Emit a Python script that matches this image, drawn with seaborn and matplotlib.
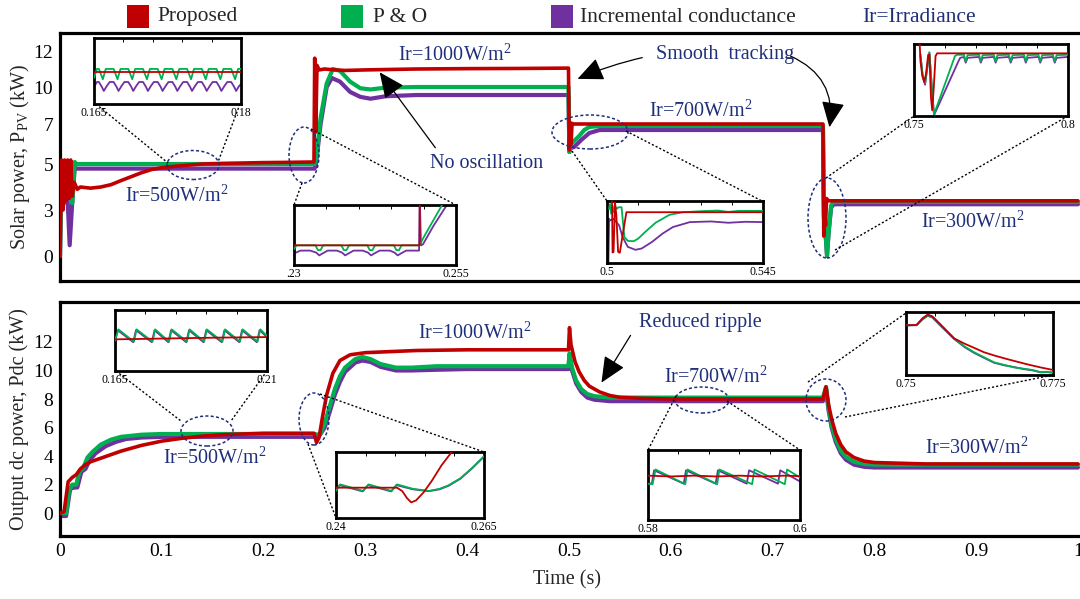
import numpy as np
import matplotlib
matplotlib.use("Agg")
import matplotlib.pyplot as plt
import seaborn as sns
from matplotlib.patches import Ellipse, Rectangle, FancyArrowPatch
from matplotlib.lines import Line2D

# ---------------------------------------------------------------- data
SERIES = ["Proposed", "P & O", "Incremental conductance"]
TIME_TICKS = [0, 0.1, 0.2, 0.3, 0.4, 0.5, 0.6, 0.7, 0.8, 0.9, 1.0]
TIME_LABELS = ["0", "0.1", "0.2", "0.3", "0.4", "0.5", "0.6", "0.7", "0.8", "0.9", "1"]
PV_TICKS = [0, 3, 5, 7, 10, 12]
PDC_TICKS = [0, 2, 4, 6, 8, 10, 12]

# Solar power Ppv (kW): (time s, value)
PV_RED = [(0.000, 0.0), (0.0015, 5.2), (0.003, 3.0), (0.0045, 5.2), (0.006, 3.4), (0.0075, 5.2),
          (0.009, 3.5), (0.0105, 5.2), (0.012, 3.6), (0.014, 4.2), (0.017, 3.9), (0.02, 4.0),
          (0.03, 3.95), (0.04, 4.0), (0.05, 4.1), (0.06, 4.28), (0.07, 4.45), (0.08, 4.62),
          (0.09, 4.76), (0.10, 4.84), (0.11, 4.89), (0.12, 4.93), (0.14, 5.0), (0.16, 5.03),
          (0.18, 5.05), (0.20, 5.07), (0.22, 5.08), (0.2495, 5.1), (0.2502, 11.6), (0.2512, 6.6),
          (0.2525, 11.2), (0.2545, 10.95), (0.26, 11.0), (0.27, 10.95), (0.28, 10.92), (0.30, 10.95),
          (0.35, 11.0), (0.40, 11.02), (0.45, 11.03), (0.4995, 11.05), (0.5003, 5.7), (0.5012, 7.1),
          (0.502, 6.0), (0.503, 7.05), (0.5045, 7.0), (0.60, 7.0), (0.70, 7.0), (0.7495, 7.0),
          (0.7503, 1.3), (0.7512, 3.4), (0.752, 2.0), (0.753, 3.5), (0.7545, 3.4), (0.80, 3.4),
          (1.0, 3.4)]
PV_GREEN = [(0.000, 0.0), (0.0015, 5.1), (0.004, 3.5), (0.006, 5.1), (0.008, 3.6), (0.0105, 4.0),
            (0.012, 3.3), (0.0145, 5.1), (0.016, 5.0), (0.25, 5.0), (0.2515, 5.2), (0.256, 7.5),
            (0.262, 10.2), (0.268, 11.0), (0.275, 10.9), (0.285, 10.3), (0.295, 9.9), (0.305, 9.8),
            (0.32, 9.95), (0.35, 10.0), (0.4995, 10.0), (0.5004, 5.6), (0.501, 6.8), (0.502, 6.0),
            (0.504, 6.1), (0.51, 6.4), (0.515, 6.7), (0.52, 6.85), (0.53, 6.9), (0.7495, 6.9),
            (0.7505, 2.5), (0.752, 1.5), (0.7535, 0.05), (0.755, 1.5), (0.7575, 3.2), (0.76, 3.35),
            (1.0, 3.35)]
PV_PURPLE = [(0.000, 0.0), (0.0015, 5.0), (0.004, 3.3), (0.006, 4.9), (0.0095, 0.7), (0.012, 3.3),
             (0.0145, 4.85), (0.016, 4.8), (0.25, 4.8), (0.2515, 5.0), (0.256, 7.0), (0.262, 10.0),
             (0.267, 10.5), (0.275, 10.3), (0.285, 9.6), (0.295, 9.2), (0.305, 9.05), (0.32, 9.25),
             (0.35, 9.35), (0.4995, 9.35), (0.5004, 5.6), (0.5008, 6.6), (0.502, 5.8), (0.505, 5.85),
             (0.512, 6.2), (0.52, 6.55), (0.53, 6.7), (0.7495, 6.7), (0.7505, 2.5), (0.752, 1.5),
             (0.7535, 0.0), (0.755, 1.5), (0.7575, 3.1), (0.76, 3.25), (1.0, 3.25)]

# Output dc power Pdc (kW)
PDC_RED = [(0.0, 0.0), (0.004, 0.1), (0.008, 2.2), (0.012, 2.5), (0.016, 2.7), (0.02, 3.1),
           (0.025, 3.4), (0.03, 3.6), (0.04, 3.85), (0.05, 4.1), (0.06, 4.35), (0.07, 4.55),
           (0.08, 4.75), (0.09, 4.9), (0.10, 5.05), (0.12, 5.25), (0.14, 5.4), (0.16, 5.5),
           (0.18, 5.55), (0.20, 5.6), (0.2495, 5.6), (0.252, 4.95), (0.2545, 5.3), (0.258, 6.8),
           (0.262, 8.3), (0.268, 9.8), (0.275, 10.7), (0.285, 11.1), (0.30, 11.25), (0.35, 11.4),
           (0.40, 11.45), (0.4995, 11.45), (0.5005, 13.0), (0.502, 11.8), (0.506, 10.6),
           (0.51, 9.9), (0.515, 9.3), (0.52, 8.9), (0.53, 8.5), (0.54, 8.25), (0.55, 8.12),
           (0.57, 8.05), (0.60, 8.0), (0.7495, 8.0), (0.7525, 8.85), (0.755, 7.6), (0.758, 6.6),
           (0.762, 5.6), (0.767, 4.8), (0.772, 4.3), (0.78, 3.9), (0.79, 3.65), (0.80, 3.55),
           (0.85, 3.45), (1.0, 3.45)]
PDC_GREEN = [(0.0, 0.0), (0.006, 0.0), (0.009, 1.6), (0.012, 2.0), (0.016, 2.0), (0.019, 2.9),
             (0.023, 3.2), (0.027, 3.9), (0.032, 4.3), (0.04, 4.8), (0.05, 5.15), (0.06, 5.35),
             (0.08, 5.5), (0.10, 5.55), (0.25, 5.55), (0.253, 5.5), (0.256, 5.6), (0.26, 6.3),
             (0.265, 7.5), (0.27, 8.7), (0.275, 9.6), (0.28, 10.2), (0.29, 10.8), (0.297, 10.95),
             (0.305, 10.8), (0.315, 10.45), (0.33, 10.2), (0.345, 10.2), (0.37, 10.3), (0.40, 10.3),
             (0.4995, 10.3), (0.5005, 11.2), (0.503, 10.2), (0.507, 9.3), (0.512, 8.7),
             (0.518, 8.35), (0.525, 8.2), (0.54, 8.1), (0.7495, 8.1), (0.7525, 8.85), (0.755, 7.4),
             (0.758, 6.2), (0.762, 5.2), (0.767, 4.4), (0.772, 3.95), (0.78, 3.6), (0.79, 3.45),
             (0.80, 3.4), (1.0, 3.4)]
PDC_PURPLE = [(0.0, -0.2), (0.006, -0.2), (0.01, 1.7), (0.014, 1.8), (0.017, 1.8), (0.021, 2.9),
              (0.025, 3.1), (0.029, 3.7), (0.035, 4.2), (0.045, 4.7), (0.055, 5.0), (0.065, 5.2),
              (0.08, 5.3), (0.10, 5.35), (0.25, 5.35), (0.255, 5.45), (0.26, 6.0), (0.265, 7.1),
              (0.27, 8.3), (0.275, 9.2), (0.28, 9.9), (0.29, 10.55), (0.297, 10.7), (0.305, 10.6),
              (0.315, 10.25), (0.33, 10.0), (0.345, 10.0), (0.37, 10.05), (0.40, 10.1),
              (0.4995, 10.1), (0.5005, 11.0), (0.503, 10.0), (0.507, 9.1), (0.512, 8.5),
              (0.518, 8.1), (0.525, 7.95), (0.54, 7.85), (0.7495, 7.85), (0.7525, 8.7), (0.755, 7.2),
              (0.758, 6.0), (0.762, 5.0), (0.767, 4.2), (0.772, 3.75), (0.78, 3.4), (0.79, 3.25),
              (0.80, 3.2), (1.0, 3.2)]

# zoomed views, Ppv
ZA_RED = [(0.165, 5.05), (0.18, 5.05)]
ZA_GREEN = [(0.1650, 4.97), (0.1653, 5.10), (0.1655, 5.10), (0.1659, 4.95), (0.1662, 5.10),
            (0.1670, 5.10), (0.1674, 4.95), (0.1677, 5.10), (0.1685, 5.10), (0.1689, 4.95),
            (0.1692, 5.10), (0.1700, 5.10), (0.1704, 4.95), (0.1707, 5.10), (0.1715, 5.10),
            (0.1719, 4.95), (0.1722, 5.10), (0.1730, 5.10), (0.1734, 4.95), (0.1737, 5.10),
            (0.1745, 5.10), (0.1749, 4.95), (0.1752, 5.10), (0.1760, 5.10), (0.1764, 4.95),
            (0.1767, 5.10), (0.1775, 5.10), (0.1779, 4.95), (0.1782, 5.10), (0.1790, 5.10),
            (0.1794, 4.95), (0.1797, 5.10), (0.1800, 5.10)]
ZA_PURPLE = [(0.1650, 4.84), (0.1653, 4.91), (0.1655, 4.91), (0.1658, 4.84), (0.1660, 4.78),
             (0.1663, 4.85), (0.1666, 4.91), (0.1670, 4.91), (0.1673, 4.84), (0.1675, 4.78),
             (0.1678, 4.85), (0.1681, 4.91), (0.1685, 4.91), (0.1688, 4.84), (0.1690, 4.78),
             (0.1693, 4.85), (0.1696, 4.91), (0.1700, 4.91), (0.1703, 4.84), (0.1705, 4.78),
             (0.1708, 4.85), (0.1711, 4.91), (0.1715, 4.91), (0.1718, 4.84), (0.1720, 4.78),
             (0.1723, 4.85), (0.1726, 4.91), (0.1730, 4.91), (0.1733, 4.84), (0.1735, 4.78),
             (0.1738, 4.85), (0.1741, 4.91), (0.1745, 4.91), (0.1748, 4.84), (0.1750, 4.78),
             (0.1753, 4.85), (0.1756, 4.91), (0.1760, 4.91), (0.1763, 4.84), (0.1765, 4.78),
             (0.1768, 4.85), (0.1771, 4.91), (0.1775, 4.91), (0.1778, 4.84), (0.1780, 4.78),
             (0.1783, 4.85), (0.1786, 4.91), (0.1790, 4.91), (0.1793, 4.84), (0.1795, 4.78),
             (0.1798, 4.85), (0.1800, 4.88)]
ZB_RED = [(0.2300, 5.10), (0.2494, 5.10), (0.24941, 6.6)]
ZB_GREEN = [(0.2300, 5.02), (0.2304, 5.10), (0.2333, 5.10), (0.2337, 5.00), (0.2341, 5.00),
            (0.2345, 5.10), (0.2373, 5.10), (0.2377, 5.00), (0.2381, 5.00), (0.2385, 5.10),
            (0.2413, 5.10), (0.2417, 5.00), (0.2421, 5.00), (0.2425, 5.10), (0.2454, 5.10),
            (0.2458, 5.00), (0.2462, 5.00), (0.2466, 5.10), (0.2494, 5.10), (0.2499, 5.24),
            (0.2512, 5.55), (0.2526, 5.88), (0.2529, 5.96)]
ZB_PURPLE = [(0.2300, 4.93), (0.2310, 4.99), (0.2325, 4.99), (0.2334, 4.95), (0.2339, 4.89),
             (0.2344, 4.93), (0.2352, 4.99), (0.2366, 4.99), (0.2374, 4.95), (0.2379, 4.89),
             (0.2384, 4.93), (0.2392, 4.99), (0.2406, 4.99), (0.2414, 4.95), (0.2419, 4.89),
             (0.2424, 4.93), (0.2432, 4.99), (0.2448, 4.99), (0.2455, 4.95), (0.2460, 4.89),
             (0.2465, 4.93), (0.2473, 4.99), (0.2493, 4.99), (0.2494, 6.1), (0.2496, 5.10),
             (0.2499, 5.12), (0.2515, 5.50), (0.2533, 5.88), (0.2537, 5.96)]
ZC_RED = [(0.5000, 7.40), (0.50145, 7.40), (0.5016, 5.78), (0.5019, 5.80), (0.5023, 7.30),
          (0.5027, 6.90), (0.5032, 5.80), (0.5037, 5.77), (0.5045, 6.30), (0.5056, 7.00),
          (0.5066, 7.00), (0.5450, 7.00)]
ZC_GREEN = [(0.5006, 7.10), (0.5009, 7.25), (0.5012, 6.95), (0.5016, 7.20), (0.5019, 7.00),
            (0.5023, 7.20), (0.5028, 7.10), (0.5033, 7.15), (0.5042, 7.15), (0.5050, 6.25),
            (0.5060, 6.13), (0.5077, 6.12), (0.5090, 6.20), (0.5110, 6.40), (0.5140, 6.68),
            (0.5180, 6.92), (0.5219, 7.00), (0.5270, 7.03), (0.5320, 7.05), (0.5350, 7.01),
            (0.5380, 7.04), (0.5450, 7.04)]
ZC_PURPLE = [(0.5004, 5.40), (0.5006, 6.80), (0.5010, 6.75), (0.5018, 6.80), (0.5025, 6.72),
             (0.5035, 6.60), (0.5045, 6.25), (0.5060, 5.95), (0.5082, 5.86), (0.5100, 5.90),
             (0.5130, 6.10), (0.5160, 6.35), (0.5190, 6.55), (0.5239, 6.70), (0.5300, 6.72),
             (0.5350, 6.68), (0.5400, 6.71), (0.5450, 6.70)]
ZD_RED = [(0.7518, 4.20), (0.7521, 3.00), (0.7527, 2.20), (0.7533, 1.85), (0.7539, 2.30),
          (0.7546, 3.37), (0.7550, 3.37), (0.7555, 1.00), (0.7559, 0.28), (0.7564, 1.50),
          (0.7570, 3.30), (0.7575, 3.45), (0.8000, 3.45)]
ZD_GREEN = [(0.7521, 3.30), (0.7528, 2.30), (0.7536, 1.80), (0.7543, 2.70), (0.7550, 3.50),
            (0.7558, 1.60), (0.7565, 0.05), (0.7633, 3.30), (0.7640, 3.37), (0.7662, 3.37),
            (0.7668, 3.00), (0.7674, 3.35), (0.7711, 3.37), (0.7717, 3.00), (0.7723, 3.35),
            (0.7759, 3.37), (0.7765, 3.00), (0.7771, 3.35), (0.7808, 3.37), (0.7814, 3.00),
            (0.7820, 3.35), (0.7857, 3.37), (0.7863, 3.00), (0.7869, 3.35), (0.7904, 3.37),
            (0.7910, 3.00), (0.7916, 3.35), (0.7951, 3.37), (0.7957, 3.00), (0.7963, 3.35),
            (0.8000, 3.37)]
ZD_PURPLE = [(0.7521, 3.40), (0.7528, 2.20), (0.7536, 1.70), (0.7543, 2.60), (0.7550, 3.50),
             (0.7558, 1.50), (0.7565, 0.00), (0.7644, 3.00), (0.7650, 3.20), (0.7662, 3.25),
             (0.7668, 2.93), (0.7674, 3.20), (0.7711, 3.25), (0.7717, 2.93), (0.7723, 3.20),
             (0.7759, 3.25), (0.7765, 2.93), (0.7771, 3.20), (0.7808, 3.25), (0.7814, 2.93),
             (0.7820, 3.20), (0.7857, 3.25), (0.7863, 2.93), (0.7869, 3.20), (0.7904, 3.25),
             (0.7910, 2.93), (0.7916, 3.20), (0.7951, 3.25), (0.7957, 2.93), (0.7963, 3.20),
             (0.8000, 3.25)]

# zoomed views, Pdc
ZE_RED = [(0.165, 5.50), (0.175, 5.52), (0.185, 5.54), (0.195, 5.56), (0.210, 5.58)]
ZE_GREEN = [(0.1650, 5.45), (0.1660, 5.85), (0.1706, 5.42), (0.1714, 5.85), (0.1761, 5.42),
            (0.1769, 5.85), (0.1810, 5.42), (0.1818, 5.85), (0.1863, 5.42), (0.1871, 5.85),
            (0.1914, 5.42), (0.1922, 5.85), (0.1968, 5.42), (0.1976, 5.85), (0.2020, 5.42),
            (0.2028, 5.85), (0.2072, 5.42), (0.2080, 5.85), (0.2100, 5.62)]
ZE_PURPLE = [(0.1650, 5.43), (0.1658, 5.82), (0.1704, 5.40), (0.1712, 5.82), (0.1759, 5.40),
             (0.1767, 5.82), (0.1808, 5.40), (0.1816, 5.82), (0.1861, 5.40), (0.1869, 5.82),
             (0.1912, 5.40), (0.1920, 5.82), (0.1966, 5.40), (0.1974, 5.82), (0.2018, 5.40),
             (0.2026, 5.82), (0.2070, 5.40), (0.2078, 5.82), (0.2100, 5.58)]
ZF_RED = [(0.2400, 5.55), (0.2503, 5.55), (0.2512, 5.40), (0.2520, 5.10), (0.2527, 4.92),
          (0.2535, 5.00), (0.2548, 5.35), (0.2562, 5.85), (0.2578, 6.50), (0.2596, 7.10),
          (0.2602, 7.30)]
ZF_GREEN = [(0.2400, 5.42), (0.2407, 5.69), (0.2446, 5.41), (0.2455, 5.69), (0.2494, 5.41),
            (0.2503, 5.69), (0.2530, 5.50), (0.2557, 5.41), (0.2575, 5.50), (0.2590, 5.65),
            (0.2610, 5.95), (0.2630, 6.40), (0.2650, 6.90)]
ZF_PURPLE = [(0.2400, 5.40), (0.2406, 5.66), (0.2445, 5.39), (0.2454, 5.66), (0.2493, 5.39),
             (0.2502, 5.66), (0.2530, 5.48), (0.2557, 5.40), (0.2575, 5.48), (0.2590, 5.63),
             (0.2610, 5.93), (0.2630, 6.38), (0.2650, 6.88)]
ZG_RED = [(0.580, 8.02), (0.583, 7.99), (0.586, 8.02), (0.589, 7.99), (0.592, 8.02),
          (0.595, 7.99), (0.598, 8.02), (0.600, 8.00)]
ZG_GREEN = [(0.5800, 7.72), (0.5806, 7.70), (0.5810, 8.25), (0.5849, 7.70), (0.5852, 8.25),
            (0.5891, 7.70), (0.5894, 8.25), (0.5937, 7.70), (0.5940, 8.25), (0.5980, 7.70),
            (0.5983, 8.25), (0.6000, 7.95)]
ZG_PURPLE = [(0.5800, 7.74), (0.5805, 7.72), (0.5808, 8.22), (0.5847, 7.72), (0.5850, 8.22),
             (0.5889, 7.72), (0.5892, 8.22), (0.5930, 7.72), (0.5933, 8.22), (0.5971, 7.72),
             (0.5974, 8.22), (0.6000, 7.80)]
ZH_RED = [(0.7500, 8.00), (0.7518, 8.02), (0.7528, 8.55), (0.7537, 8.85), (0.7545, 8.70),
          (0.7560, 8.00), (0.7582, 6.95), (0.7599, 6.55), (0.7616, 6.20), (0.7633, 5.85),
          (0.7650, 5.60), (0.7673, 5.30), (0.7706, 4.90), (0.7729, 4.65), (0.7750, 4.45)]
ZH_GREEN = [(0.7500, 8.00), (0.7518, 8.02), (0.7528, 8.50), (0.7537, 8.80), (0.7545, 8.65),
            (0.7560, 7.95), (0.7582, 6.95), (0.7600, 6.30), (0.7616, 5.85), (0.7633, 5.45),
            (0.7650, 5.05), (0.7667, 4.85), (0.7684, 4.65), (0.7700, 4.55), (0.7715, 4.45),
            (0.7729, 4.28), (0.7740, 4.30), (0.7750, 4.25)]
ZH_PURPLE = [(0.7500, 7.98), (0.7518, 8.00), (0.7528, 8.45), (0.7537, 8.75), (0.7545, 8.60),
             (0.7560, 7.90), (0.7582, 6.90), (0.7600, 6.25), (0.7616, 5.80), (0.7633, 5.40),
             (0.7650, 5.02), (0.7667, 4.82), (0.7684, 4.68), (0.7700, 4.52), (0.7715, 4.42),
             (0.7729, 4.26), (0.7740, 4.28), (0.7750, 4.22)]

# ---------------------------------------------------------------- style
RED, GREEN, PURPLE = "#c00000", "#00b050", "#7030a0"
NAVY = "#1f2f7a"
sns.set_style("white")
plt.rcParams["font.family"] = ["Liberation Serif", "DejaVu Serif"]
plt.rcParams["mathtext.fontset"] = "custom"
plt.rcParams["mathtext.rm"] = "Liberation Serif"
plt.rcParams["mathtext.it"] = "Liberation Serif:italic"

W, H = 1080, 599
fig = plt.figure(figsize=(W / 100, H / 100), dpi=100)
fig.patch.set_facecolor("white")


def box(x0, y0, x1, y1):
    return [x0 / W, 1 - y1 / H, (x1 - x0) / W, (y1 - y0) / H]


def fp(x, y):
    return (x / W, 1 - y / H)


def draw(ax, pairs, color, lw, z):
    t = [p[0] for p in pairs]
    v = [p[1] for p in pairs]
    sns.lineplot(x=t, y=v, ax=ax, color=color, lw=lw, estimator=None, sort=False,
                 zorder=z, legend=False)


def style_main(ax):
    for side in ["left", "bottom", "top"]:
        ax.spines[side].set_linewidth(2.3)
        ax.spines[side].set_color("black")
    ax.spines["right"].set_visible(False)
    ax.tick_params(direction="in", length=7, width=1.8, labelsize=14, colors="black", pad=5)
    ax.set_xlim(0, 1.002)
    ax.set_xticks(TIME_TICKS)
    ax.grid(False)
    ax.set_xlabel("")
    ax.set_ylabel("")


# ---------------------------------------------------------------- top panel
ax1 = fig.add_axes(box(60, 33, 1080, 281))
_pv = [-20, 0, 3, 5, 7, 10, 12, 30]
_up = [25 - 20 * 15.33, 25, 71, 117, 157, 194, 230, 230 + 18 * 18]
ax1.set_yscale("function", functions=(lambda v: np.interp(v, _pv, _up),
                                      lambda u: np.interp(u, _up, _pv)))
draw(ax1, PV_PURPLE, PURPLE, 3.0, 2)
draw(ax1, PV_GREEN, GREEN, 3.0, 3)
draw(ax1, PV_RED, RED, 2.6, 4)
style_main(ax1)
ax1.set_ylim(-1.63, 13.0)
ax1.set_yticks(PV_TICKS)
ax1.set_yticklabels([str(v) for v in PV_TICKS])
ax1.tick_params(axis="x", labelbottom=False)

# ---------------------------------------------------------------- bottom panel
ax2 = fig.add_axes(box(60, 302, 1080, 536))
draw(ax2, PDC_PURPLE, PURPLE, 3.0, 2)
draw(ax2, PDC_GREEN, GREEN, 3.0, 3)
draw(ax2, PDC_RED, RED, 2.6, 4)
style_main(ax2)
ax2.set_ylim(-1.6, 14.8)
ax2.set_yticks(PDC_TICKS)
ax2.set_xticklabels(TIME_LABELS)

# axis titles
fig.text(20 / W, 1 - 157 / H, r"Solar power, P$_{\mathregular{PV}}$ (kW)", rotation=90,
         ha="center", va="center", fontsize=14.5)
fig.text(19 / W, 1 - 419 / H, "Output dc power, Pdc (kW)", rotation=90,
         ha="center", va="center", fontsize=14.5)
fig.text(567 / W, 1 - 580 / H, "Time (s)", ha="center", va="center", fontsize=14.5)

# legend row
for (x0, col), name, tx in zip([(127, RED), (341, GREEN), (551, PURPLE)], SERIES, [157, 373, 580]):
    fig.add_artist(Rectangle(fp(x0, 28), 22 / W, 23 / H, transform=fig.transFigure,
                             facecolor=col, edgecolor="none"))
    fig.text(tx / W, 1 - 17 / H, name, ha="left", va="center", fontsize=15.5)
fig.text(862 / W, 1 - 17 / H, "Ir=Irradiance", ha="left", va="center", fontsize=15.5, color=NAVY)

# annotation texts
notes = [(455, 55, r"Ir=1000W/m$^{\mathregular{2}}$"), (487, 163, "No oscillation"),
         (177, 196, r"Ir=500W/m$^{\mathregular{2}}$"), (725, 55, "Smooth  tracking"),
         (701, 111, r"Ir=700W/m$^{\mathregular{2}}$"), (973, 222, r"Ir=300W/m$^{\mathregular{2}}$"),
         (475, 333, r"Ir=1000W/m$^{\mathregular{2}}$"), (700, 323, "Reduced ripple"),
         (716, 377, r"Ir=700W/m$^{\mathregular{2}}$"), (215, 458, r"Ir=500W/m$^{\mathregular{2}}$"),
         (977, 448, r"Ir=300W/m$^{\mathregular{2}}$")]
for x, y, s in notes:
    fig.text(x / W, 1 - y / H, s, ha="center", va="center", fontsize=14.5, color=NAVY)


def arrow(a, b, rad=0.0):
    fig.add_artist(FancyArrowPatch(fp(*a), fp(*b), transform=fig.transFigure,
                                   arrowstyle="-|>,head_length=1.0,head_width=0.45",
                                   mutation_scale=16, color="black", lw=0.9,
                                   connectionstyle=f"arc3,rad={rad}", zorder=6))


arrow((437, 150), (378, 70))
arrow((645, 57), (575, 80), 0.05)
arrow((788, 55), (829, 130), -0.4)
arrow((632, 333), (600, 385))


# ---------------------------------------------------------------- zoomed insets
def inset(rect, xlim, ylim, labels, red, green, purple):
    ax = fig.add_axes(box(*rect))
    draw(ax, purple, PURPLE, 1.3, 2)
    draw(ax, green, GREEN, 1.3, 3)
    draw(ax, red, RED, 1.3, 4)
    ax.set_xlim(xlim)
    ax.set_ylim(ylim)
    ax.set_xticks(np.linspace(xlim[0], xlim[1], 6))
    ax.set_xticklabels([labels[0], "", "", "", "", labels[1]])
    ax.set_yticks([])
    ax.tick_params(axis="x", direction="in", top=True, bottom=False, labelbottom=True,
                   length=3, width=0.7, labelsize=8.5, pad=2, colors="black")
    ax.set_facecolor("white")
    for s in ax.spines.values():
        s.set_linewidth(2.0)
        s.set_color("black")
    ax.set_xlabel("")
    ax.set_ylabel("")
    return ax


inset((94, 38, 241, 104), (0.165, 0.18), (4.59, 5.55), ("0.165", "0.18"), ZA_RED, ZA_GREEN, ZA_PURPLE)
inset((294, 205, 456, 265), (0.23, 0.255), (4.69, 5.94), (".23", "0.255"), ZB_RED, ZB_GREEN, ZB_PURPLE)
inset((607, 201, 763, 263), (0.5, 0.545), (5.46, 7.34), ("0.5", "0.545"), ZC_RED, ZC_GREEN, ZC_PURPLE)
inset((914, 44, 1068, 116), (0.75, 0.8), (-0.04, 3.97), ("0.75", "0.8"), ZD_RED, ZD_GREEN, ZD_PURPLE)
inset((115, 310, 267, 371), (0.165, 0.21), (4.39, 6.53), ("0.165", "0.21"), ZE_RED, ZE_GREEN, ZE_PURPLE)
inset((336, 452, 484, 518), (0.24, 0.265), (4.25, 7.08), ("0.24", "0.265"), ZF_RED, ZF_GREEN, ZF_PURPLE)
inset((648, 450, 800, 520), (0.58, 0.6), (6.36, 8.98), ("0.58", "0.6"), ZG_RED, ZG_GREEN, ZG_PURPLE)
inset((906, 312, 1053, 375), (0.75, 0.775), (4.05, 9.05), ("0.75", "0.775"), ZH_RED, ZH_GREEN, ZH_PURPLE)

# highlight ellipses and dotted leaders
ellipses = [(193, 165, 52, 29), (304, 155, 30, 56), (590, 132, 76, 34), (827, 218, 38, 80),
            (207, 431, 52, 30), (314, 419, 30, 52), (702, 400, 54, 26), (826, 400, 40, 42)]
for cx, cy, w, h in ellipses:
    fig.add_artist(Ellipse(fp(cx, cy), w / W, h / H, transform=fig.transFigure, fill=False,
                           edgecolor=NAVY, lw=1.1, ls=(0, (2, 1.5)), zorder=5))

leaders = [((96, 104), (168, 163)), ((240, 104), (218, 162)),
           ((311, 129), (456, 205)), ((302, 183), (294, 205)),
           ((572, 151), (607, 201)), ((626, 131), (762, 201)),
           ((826, 178), (914, 116)), ((835, 250), (1068, 116)),
           ((116, 371), (181, 421)), ((267, 371), (231, 421)),
           ((320, 394), (484, 452)), ((308, 444), (336, 518)),
           ((676, 396), (648, 450)), ((727, 401), (800, 450)),
           ((808, 382), (906, 313)), ((845, 417), (1053, 375))]
for a, b in leaders:
    fig.add_artist(Line2D([a[0] / W, b[0] / W], [1 - a[1] / H, 1 - b[1] / H],
                          transform=fig.transFigure, color="black", lw=1.0,
                          ls=(0, (1.5, 1.5)), zorder=5))

fig.savefig("out.png", dpi=100, facecolor="white")
